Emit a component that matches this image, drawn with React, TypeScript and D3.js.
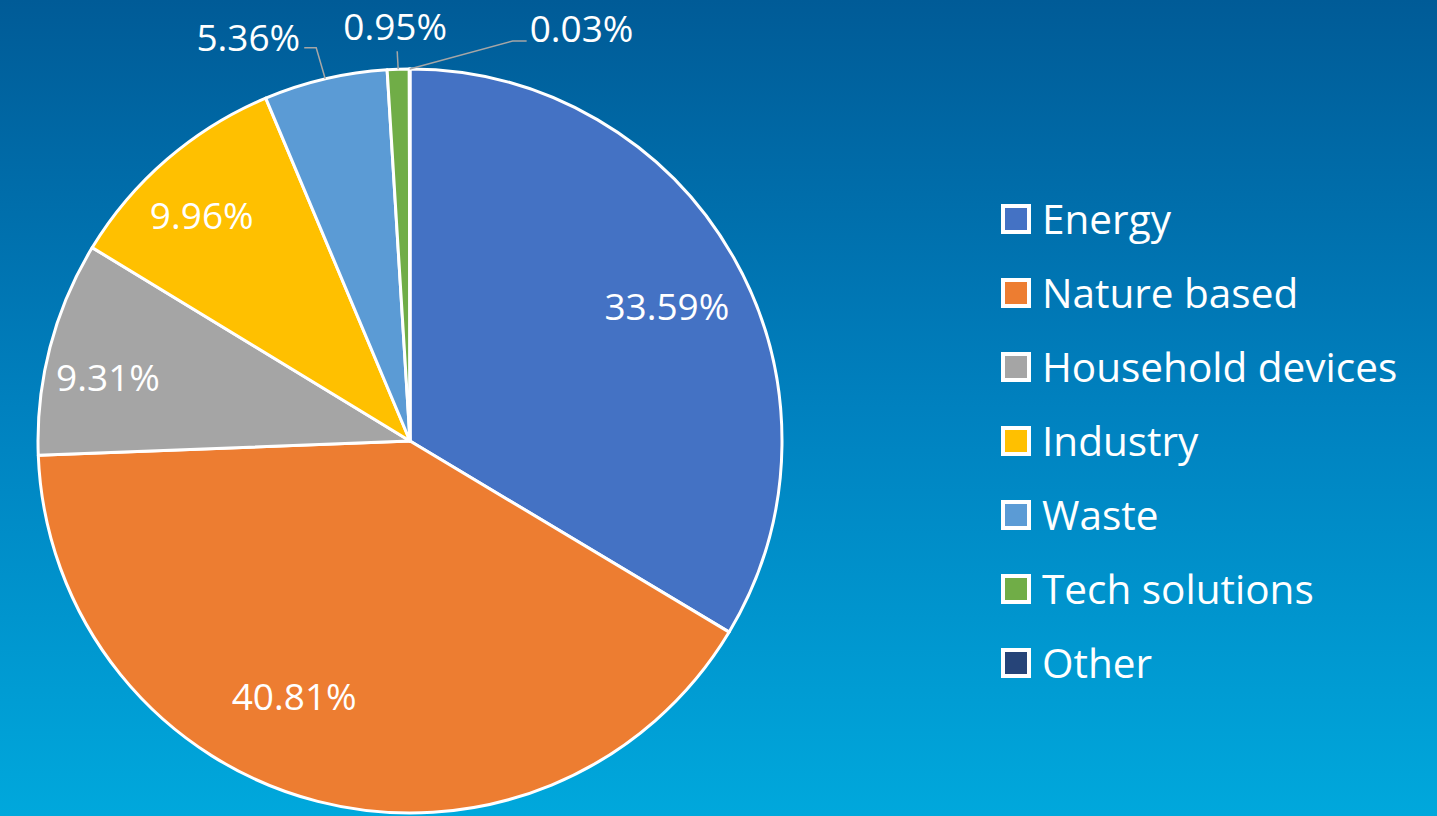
import { useEffect, useRef } from "react";
import * as d3 from "d3";

const categories = ["Energy", "Nature based", "Household devices", "Industry", "Waste", "Tech solutions", "Other"];
const shares = [33.59, 40.81, 9.31, 9.96, 5.36, 0.95, 0.03];
const colors = ["#4472c4", "#ed7d31", "#a5a5a5", "#ffc000", "#5b9bd5", "#70ad47", "#264478"];

// small slices get their label outside with a leader line (offsets from the edge point)
const outside: Record<string, { elbow: [number, number]; end: [number, number]; text: [number, number]; anchor: string }> = {
  Waste: { elbow: [-9, -31], end: [-21, -31], text: [-25, -28], anchor: "end" },
  "Tech solutions": { elbow: [-1, -18], end: [-1, -18], text: [-3, -29], anchor: "middle" },
  Other: { elbow: [103, -28], end: [117, -28], text: [120, -27], anchor: "start" },
};

// best-fit style nudges for the inside labels
const nudge: Record<string, [number, number]> = {
  Energy: [-2, 12],
  "Nature based": [-42, -33],
  "Household devices": [-14, 12],
  Industry: [-14, 0],
};

type Slice = { name: string; value: number; color: string };

export default function App() {
  const svgRef = useRef<SVGSVGElement | null>(null);

  useEffect(() => {
    const width = 1437;
    const height = 816;
    const cx = 410;
    const cy = 441;
    const radius = 372;
    const font = "'Open Sans', sans-serif";

    const data: Slice[] = categories.map((c, i) => ({ name: c, value: shares[i], color: colors[i] }));

    const svg = d3.select(svgRef.current).attr("width", width).attr("height", height);
    svg.selectAll("*").remove();

    const defs = svg.append("defs");
    const grad = defs.append("linearGradient").attr("id", "bg").attr("x1", 0).attr("y1", 0).attr("x2", 0).attr("y2", 1);
    grad.append("stop").attr("offset", "0%").attr("stop-color", "#005b97");
    grad.append("stop").attr("offset", "50%").attr("stop-color", "#0081bf");
    grad.append("stop").attr("offset", "100%").attr("stop-color", "#00a8dc");

    svg.append("rect").attr("width", width).attr("height", height).attr("fill", "url(#bg)");

    const g = svg.append("g").attr("transform", `translate(${cx},${cy})`);

    const pie = d3.pie<Slice>().value((d) => d.value).sort(null).startAngle(0).endAngle(2 * Math.PI);
    const arc = d3.arc<d3.PieArcDatum<Slice>>().innerRadius(0).outerRadius(radius);
    const labelArc = d3.arc<d3.PieArcDatum<Slice>>().innerRadius(radius * 0.8).outerRadius(radius * 0.8);
    const edgeArc = d3.arc<d3.PieArcDatum<Slice>>().innerRadius(radius).outerRadius(radius);

    const arcs = pie(data);

    g.selectAll("path.slice")
      .data(arcs)
      .enter()
      .append("path")
      .attr("class", "slice")
      .attr("d", arc)
      .attr("fill", (d) => d.data.color)
      .attr("stroke", "#ffffff")
      .attr("stroke-width", 3)
      .attr("stroke-linejoin", "round");

    arcs.forEach((d) => {
      const label = d.data.value.toFixed(2) + "%";
      const o = outside[d.data.name];
      if (o) {
        const [ex, ey] = edgeArc.centroid(d);
        g.append("polyline")
          .attr("points", [[ex, ey], [ex + o.elbow[0], ey + o.elbow[1]], [ex + o.end[0], ey + o.end[1]]].map((p) => p.join(",")).join(" "))
          .attr("fill", "none")
          .attr("stroke", "#a6a6a6")
          .attr("stroke-width", 1.5);
        g.append("text")
          .attr("x", ex + o.text[0])
          .attr("y", ey + o.text[1])
          .attr("text-anchor", o.anchor)
          .attr("fill", "#ffffff")
          .style("font-family", font)
          .style("font-size", "37px")
          .text(label);
      } else {
        const [lx, ly] = labelArc.centroid(d);
        const [nx, ny] = nudge[d.data.name] || [0, 0];
        g.append("text")
          .attr("x", lx + nx)
          .attr("y", ly + ny)
          .attr("dy", "0.36em")
          .attr("text-anchor", "middle")
          .attr("fill", "#ffffff")
          .style("font-family", font)
          .style("font-size", "37px")
          .text(label);
      }
    });

    // legend on the right
    const legend = svg.append("g").attr("transform", "translate(1003, 219)");
    const rowH = 74;
    const items = legend
      .selectAll("g.item")
      .data(data)
      .enter()
      .append("g")
      .attr("class", "item")
      .attr("transform", (_, i) => `translate(0,${i * rowH})`);

    items
      .append("rect")
      .attr("x", 0)
      .attr("y", -13)
      .attr("width", 26)
      .attr("height", 26)
      .attr("fill", (d) => d.color)
      .attr("stroke", "#ffffff")
      .attr("stroke-width", 4);

    items
      .append("text")
      .attr("x", 39)
      .attr("y", 0)
      .attr("dy", "0.36em")
      .attr("fill", "#ffffff")
      .style("font-family", font)
      .style("font-size", "40.5px")
      .text((d) => d.name);
  }, []);

  return <svg ref={svgRef} style={{ position: "absolute", left: 0, top: 0, display: "block" }} />;
}
